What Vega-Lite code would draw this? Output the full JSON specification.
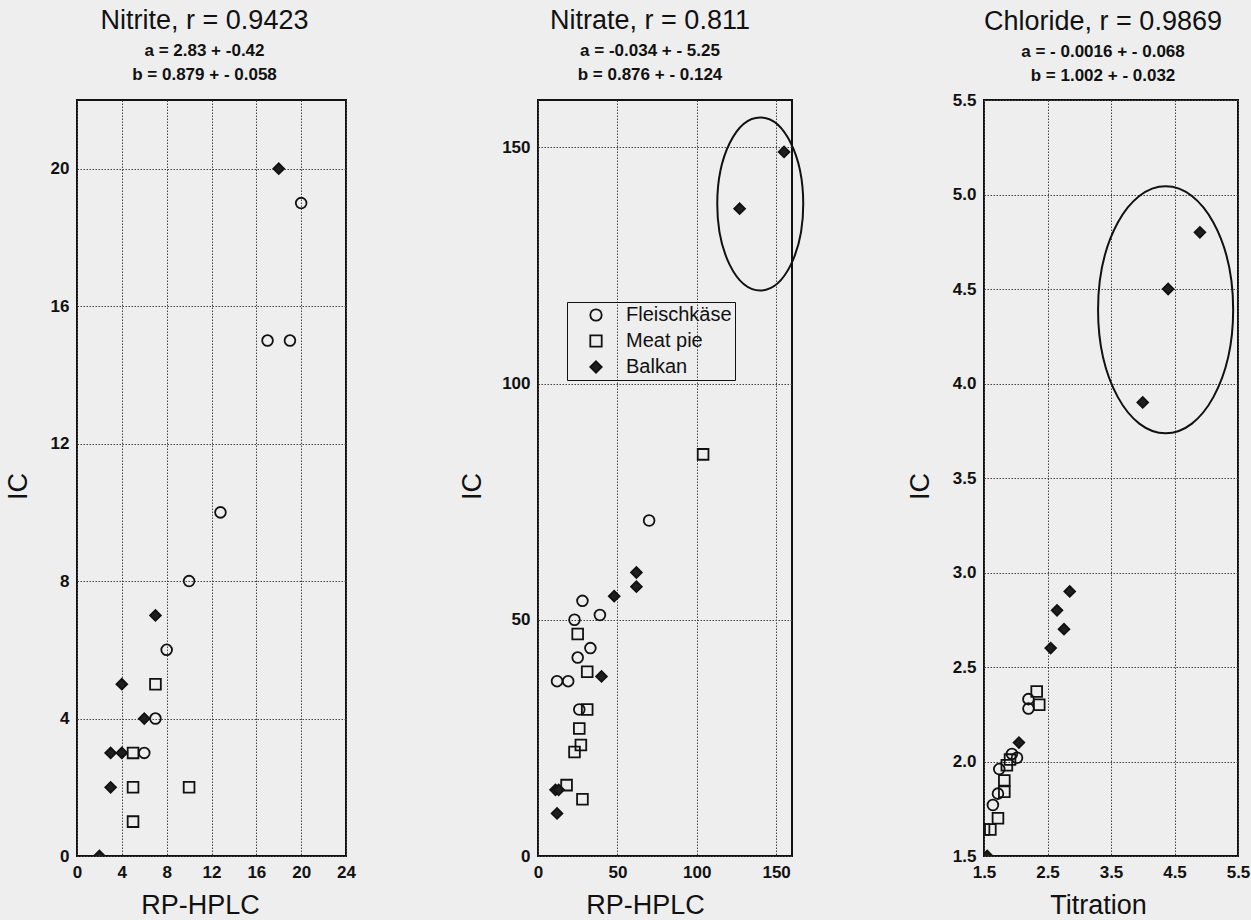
{
  "$schema": "https://vega.github.io/schema/vega-lite/v6.json",
  "background": "#eeeeee",
  "padding": {"left": 3, "top": 6, "right": 5, "bottom": 2},
  "spacing": 192,
  "bounds": "flush",
  "config": {
    "font": "Liberation Sans",
    "view": {"stroke": "#111111", "strokeWidth": 2},
    "title": {"anchor": "middle", "fontSize": 27, "fontWeight": "normal", "color": "#111111", "subtitleFontSize": 17, "subtitleFontWeight": "bold", "subtitleColor": "#111111", "subtitlePadding": 8, "subtitleLineHeight": 24, "offset": 16, "font": "Liberation Sans", "subtitleFont": "Liberation Sans"},
    "axis": {"grid": true, "gridColor": "#444444", "gridDash": [1.5, 1.5], "gridWidth": 1, "ticks": false, "domain": false, "labelFontSize": 17, "labelFontWeight": "bold", "labelColor": "#111111", "labelPadding": 8, "labelFlush": false, "labelOverlap": false, "labelBound": false, "titleFontSize": 27, "titleFontWeight": "normal", "titleColor": "#111111", "titleFont": "Liberation Sans", "labelFont": "Liberation Sans"},
    "axisY": {"titleBaseline": "middle", "titleAngle": -90, "titleAlign": "center", "titleY": 386},
    "axisX": {"titleBaseline": "alphabetic", "titleAlign": "center", "titleY": 57}
  },
  "resolve": {"scale": {"x": "independent", "y": "independent", "shape": "independent", "fill": "independent", "stroke": "independent"}, "legend": {"shape": "independent", "fill": "independent", "stroke": "independent"}},
  "datasets": {
    "nitrite": [
      {"series": "Fleischkäse", "x": 20, "y": 19},
      {"series": "Fleischkäse", "x": 17, "y": 15},
      {"series": "Fleischkäse", "x": 19, "y": 15},
      {"series": "Fleischkäse", "x": 12.8, "y": 10},
      {"series": "Fleischkäse", "x": 10, "y": 8},
      {"series": "Fleischkäse", "x": 8, "y": 6},
      {"series": "Fleischkäse", "x": 7, "y": 4},
      {"series": "Fleischkäse", "x": 6, "y": 3},
      {"series": "Meat pie", "x": 7, "y": 5},
      {"series": "Meat pie", "x": 5, "y": 3},
      {"series": "Meat pie", "x": 5, "y": 2},
      {"series": "Meat pie", "x": 10, "y": 2},
      {"series": "Meat pie", "x": 5, "y": 1},
      {"series": "Balkan", "x": 18, "y": 20},
      {"series": "Balkan", "x": 7, "y": 7},
      {"series": "Balkan", "x": 4, "y": 5},
      {"series": "Balkan", "x": 6, "y": 4},
      {"series": "Balkan", "x": 3, "y": 3},
      {"series": "Balkan", "x": 4, "y": 3},
      {"series": "Balkan", "x": 3, "y": 2},
      {"series": "Balkan", "x": 2, "y": 0}
    ],
    "nitrate": [
      {"series": "Fleischkäse", "x": 70, "y": 71},
      {"series": "Fleischkäse", "x": 28, "y": 54},
      {"series": "Fleischkäse", "x": 39, "y": 51},
      {"series": "Fleischkäse", "x": 23, "y": 50},
      {"series": "Fleischkäse", "x": 33, "y": 44},
      {"series": "Fleischkäse", "x": 25, "y": 42},
      {"series": "Fleischkäse", "x": 12, "y": 37},
      {"series": "Fleischkäse", "x": 19, "y": 37},
      {"series": "Fleischkäse", "x": 26, "y": 31},
      {"series": "Meat pie", "x": 104, "y": 85},
      {"series": "Meat pie", "x": 25, "y": 47},
      {"series": "Meat pie", "x": 31, "y": 39},
      {"series": "Meat pie", "x": 31, "y": 31},
      {"series": "Meat pie", "x": 26, "y": 27},
      {"series": "Meat pie", "x": 27, "y": 23.5},
      {"series": "Meat pie", "x": 23, "y": 22},
      {"series": "Meat pie", "x": 18, "y": 15},
      {"series": "Meat pie", "x": 28, "y": 12},
      {"series": "Balkan", "x": 155, "y": 149},
      {"series": "Balkan", "x": 127, "y": 137},
      {"series": "Balkan", "x": 62, "y": 60},
      {"series": "Balkan", "x": 62, "y": 57},
      {"series": "Balkan", "x": 48, "y": 55},
      {"series": "Balkan", "x": 40, "y": 38},
      {"series": "Balkan", "x": 11, "y": 14},
      {"series": "Balkan", "x": 13, "y": 14},
      {"series": "Balkan", "x": 12, "y": 9}
    ],
    "chloride": [
      {"series": "Fleischkäse", "x": 2.2, "y": 2.33},
      {"series": "Fleischkäse", "x": 2.2, "y": 2.28},
      {"series": "Fleischkäse", "x": 2.02, "y": 2.02},
      {"series": "Fleischkäse", "x": 1.94, "y": 2.04},
      {"series": "Fleischkäse", "x": 1.74, "y": 1.96},
      {"series": "Fleischkäse", "x": 1.72, "y": 1.83},
      {"series": "Fleischkäse", "x": 1.64, "y": 1.77},
      {"series": "Meat pie", "x": 2.33, "y": 2.37},
      {"series": "Meat pie", "x": 2.37, "y": 2.3},
      {"series": "Meat pie", "x": 1.91, "y": 2.01},
      {"series": "Meat pie", "x": 1.86, "y": 1.98},
      {"series": "Meat pie", "x": 1.82, "y": 1.9},
      {"series": "Meat pie", "x": 1.82, "y": 1.84},
      {"series": "Meat pie", "x": 1.72, "y": 1.7},
      {"series": "Meat pie", "x": 1.6, "y": 1.64},
      {"series": "Meat pie", "x": 1.5, "y": 1.64},
      {"series": "Balkan", "x": 4.9, "y": 4.8},
      {"series": "Balkan", "x": 4.4, "y": 4.5},
      {"series": "Balkan", "x": 4.0, "y": 3.9},
      {"series": "Balkan", "x": 2.85, "y": 2.9},
      {"series": "Balkan", "x": 2.65, "y": 2.8},
      {"series": "Balkan", "x": 2.76, "y": 2.7},
      {"series": "Balkan", "x": 2.55, "y": 2.6},
      {"series": "Balkan", "x": 2.05, "y": 2.1},
      {"series": "Balkan", "x": 1.55, "y": 1.5}
    ],
    "ellipse2": [{"x": 140, "y": 138}],
    "ellipse3": [{"x": 4.36, "y": 4.39}]
  },
  "hconcat": [
    {
      "width": 269,
      "height": 756,
      "title": {"text": "Nitrite, r = 0.9423", "subtitle": ["a = 2.83 + -0.42", "b = 0.879 + - 0.058"], "dx": -7},
      "data": {"name": "nitrite"},
      "mark": {"type": "point", "filled": false, "strokeWidth": 1.8, "size": 115, "opacity": 1, "clip": true},
      "encoding": {
        "x": {"field": "x", "type": "quantitative", "scale": {"domain": [0, 24], "nice": false, "zero": false}, "axis": {"values": [0, 4, 8, 12, 16, 20, 24], "title": "RP-HPLC", "titleX": 123}},
        "y": {"field": "y", "type": "quantitative", "scale": {"domain": [0, 22], "nice": false, "zero": false}, "axis": {"values": [0, 4, 8, 12, 16, 20], "title": "IC", "titleX": -59}},
        "shape": {"field": "series", "type": "nominal", "scale": {"domain": ["Fleischkäse", "Meat pie", "Balkan"], "range": ["circle", "square", "diamond"]}, "legend": null},
        "fill": {"field": "series", "type": "nominal", "scale": {"domain": ["Fleischkäse", "Meat pie", "Balkan"], "range": ["rgba(0,0,0,0)", "rgba(0,0,0,0)", "#1e1e1e"]}, "legend": null},
        "stroke": {"field": "series", "type": "nominal", "scale": {"domain": ["Fleischkäse", "Meat pie", "Balkan"], "range": ["#111111", "#111111", "#111111"]}, "legend": null}
      }
    },
    {
      "width": 254,
      "height": 756,
      "title": {"text": "Nitrate, r = 0.811", "subtitle": ["a = -0.034 + - 5.25", "b = 0.876 + - 0.124"], "dx": -15},
      "layer": [
        {
          "data": {"name": "nitrate"},
          "mark": {"type": "point", "filled": false, "strokeWidth": 1.8, "size": 115, "opacity": 1, "clip": true},
          "encoding": {
            "x": {"field": "x", "type": "quantitative", "scale": {"domain": [0, 160], "nice": false, "zero": false}, "axis": {"values": [0, 50, 100, 150], "title": "RP-HPLC", "titleX": 107}},
            "y": {"field": "y", "type": "quantitative", "scale": {"domain": [0, 160], "nice": false, "zero": false}, "axis": {"values": [0, 50, 100, 150], "title": "IC", "titleX": -66}},
            "shape": {"field": "series", "type": "nominal", "scale": {"domain": ["Fleischkäse", "Meat pie", "Balkan"], "range": ["circle", "square", "diamond"]}, "legend": {"title": null, "orient": "none", "legendX": 29, "legendY": 202, "strokeColor": "#111111", "padding": 3, "labelFontSize": 20, "labelFont": "Liberation Sans", "labelColor": "#111111", "symbolSize": 130, "symbolStrokeWidth": 1.8, "rowPadding": 6, "symbolOffset": 16, "labelOffset": 20}},
            "fill": {"field": "series", "type": "nominal", "scale": {"domain": ["Fleischkäse", "Meat pie", "Balkan"], "range": ["rgba(0,0,0,0)", "rgba(0,0,0,0)", "#1e1e1e"]}, "legend": {"title": null, "orient": "none", "legendX": 29, "legendY": 202, "strokeColor": "#111111", "padding": 3, "labelFontSize": 20, "labelFont": "Liberation Sans", "labelColor": "#111111", "symbolSize": 130, "symbolStrokeWidth": 1.8, "rowPadding": 6, "symbolOffset": 16, "labelOffset": 20}},
            "stroke": {"field": "series", "type": "nominal", "scale": {"domain": ["Fleischkäse", "Meat pie", "Balkan"], "range": ["#111111", "#111111", "#111111"]}, "legend": {"title": null, "orient": "none", "legendX": 29, "legendY": 202, "strokeColor": "#111111", "padding": 3, "labelFontSize": 20, "labelFont": "Liberation Sans", "labelColor": "#111111", "symbolSize": 130, "symbolStrokeWidth": 1.8, "rowPadding": 6, "symbolOffset": 16, "labelOffset": 20}}
          }
        },
        {
          "data": {"name": "ellipse2"},
          "mark": {"type": "point", "shape": "M 0 -1 C 0.2745 -1 0.497 -0.5523 0.497 0 C 0.497 0.5523 0.2745 1 0 1 C -0.2745 1 -0.497 0.5523 -0.497 0 C -0.497 -0.5523 -0.2745 -1 0 -1 Z", "size": 29929, "filled": false, "stroke": "#111111", "strokeWidth": 2, "opacity": 1, "clip": false},
          "encoding": {
            "x": {"field": "x", "type": "quantitative"},
            "y": {"field": "y", "type": "quantitative"}
          }
        }
      ]
    },
    {
      "width": 254,
      "height": 756,
      "title": {"text": "Chloride, r = 0.9869", "subtitle": ["a = - 0.0016 + - 0.068", "b = 1.002 + - 0.032"], "dx": -8, "offset": 6},
      "layer": [
        {
          "data": {"name": "chloride"},
          "mark": {"type": "point", "filled": false, "strokeWidth": 1.8, "size": 115, "opacity": 1, "clip": true},
          "encoding": {
            "x": {"field": "x", "type": "quantitative", "scale": {"domain": [1.5, 5.5], "nice": false, "zero": false}, "axis": {"values": [1.5, 2.5, 3.5, 4.5, 5.5], "format": ".1f", "title": "Titration", "titleX": 114}},
            "y": {"field": "y", "type": "quantitative", "scale": {"domain": [1.5, 5.5], "nice": false, "zero": false}, "axis": {"values": [1.5, 2.0, 2.5, 3.0, 3.5, 4.0, 4.5, 5.0, 5.5], "format": ".1f", "title": "IC", "titleX": -64}},
            "shape": {"field": "series", "type": "nominal", "scale": {"domain": ["Fleischkäse", "Meat pie", "Balkan"], "range": ["circle", "square", "diamond"]}, "legend": null},
            "fill": {"field": "series", "type": "nominal", "scale": {"domain": ["Fleischkäse", "Meat pie", "Balkan"], "range": ["rgba(0,0,0,0)", "rgba(0,0,0,0)", "#1e1e1e"]}, "legend": null},
            "stroke": {"field": "series", "type": "nominal", "scale": {"domain": ["Fleischkäse", "Meat pie", "Balkan"], "range": ["#111111", "#111111", "#111111"]}, "legend": null}
          }
        },
        {
          "data": {"name": "ellipse3"},
          "mark": {"type": "point", "shape": "M 0 -1 C 0.3021 -1 0.547 -0.5523 0.547 0 C 0.547 0.5523 0.3021 1 0 1 C -0.3021 1 -0.547 0.5523 -0.547 0 C -0.547 -0.5523 -0.3021 -1 0 -1 Z", "size": 61009, "filled": false, "stroke": "#111111", "strokeWidth": 2, "opacity": 1, "clip": false},
          "encoding": {
            "x": {"field": "x", "type": "quantitative"},
            "y": {"field": "y", "type": "quantitative"}
          }
        }
      ]
    }
  ]
}
